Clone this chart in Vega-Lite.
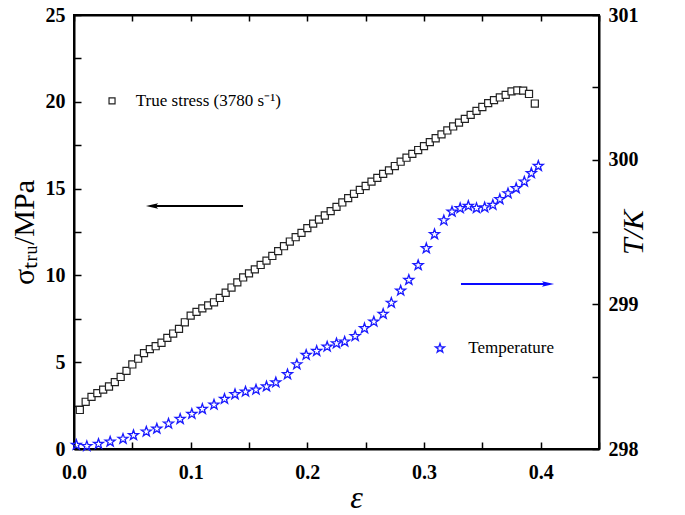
{
  "$schema": "https://vega.github.io/schema/vega-lite/v6.json",
  "width": 525,
  "height": 434,
  "autosize": {"type": "none"},
  "padding": {"left": 74, "top": 15, "right": 86, "bottom": 66},
  "background": "white",
  "config": {
    "view": {"stroke": "black", "strokeWidth": 2},
    "axis": {
      "grid": false,
      "zindex": 2,
      "labelFlush": false,
      "labelOverlap": false,
      "domainColor": "black",
      "domainWidth": 2,
      "tickColor": "black",
      "tickWidth": 1.5,
      "labelFont": "Liberation Serif",
      "labelFontWeight": "bold",
      "labelFontSize": 20,
      "labelColor": "black",
      "titleFont": "Liberation Serif",
      "titleFontWeight": "normal",
      "titleColor": "black"
    }
  },
  "datasets": {
    "stress": [
      {"eps": 0.005, "val": 2.25}, {"eps": 0.010, "val": 2.72}, {"eps": 0.015, "val": 3.0}, {"eps": 0.020, "val": 3.22},
      {"eps": 0.025, "val": 3.42}, {"eps": 0.030, "val": 3.6}, {"eps": 0.035, "val": 3.85}, {"eps": 0.040, "val": 4.15},
      {"eps": 0.045, "val": 4.5}, {"eps": 0.050, "val": 4.87}, {"eps": 0.055, "val": 5.2}, {"eps": 0.060, "val": 5.52},
      {"eps": 0.065, "val": 5.75}, {"eps": 0.070, "val": 5.92}, {"eps": 0.075, "val": 6.12}, {"eps": 0.080, "val": 6.4},
      {"eps": 0.085, "val": 6.65}, {"eps": 0.090, "val": 6.92}, {"eps": 0.095, "val": 7.3}, {"eps": 0.100, "val": 7.68},
      {"eps": 0.105, "val": 7.9}, {"eps": 0.110, "val": 8.1}, {"eps": 0.115, "val": 8.27}, {"eps": 0.120, "val": 8.45},
      {"eps": 0.125, "val": 8.7}, {"eps": 0.130, "val": 9.0}, {"eps": 0.135, "val": 9.3}, {"eps": 0.140, "val": 9.6},
      {"eps": 0.145, "val": 9.88}, {"eps": 0.150, "val": 10.12}, {"eps": 0.155, "val": 10.35}, {"eps": 0.160, "val": 10.6},
      {"eps": 0.165, "val": 10.85}, {"eps": 0.170, "val": 11.12}, {"eps": 0.175, "val": 11.4}, {"eps": 0.180, "val": 11.68},
      {"eps": 0.185, "val": 11.95}, {"eps": 0.190, "val": 12.2}, {"eps": 0.195, "val": 12.45}, {"eps": 0.200, "val": 12.72},
      {"eps": 0.205, "val": 12.98}, {"eps": 0.210, "val": 13.22}, {"eps": 0.215, "val": 13.45}, {"eps": 0.220, "val": 13.7},
      {"eps": 0.225, "val": 13.95}, {"eps": 0.230, "val": 14.2}, {"eps": 0.235, "val": 14.45}, {"eps": 0.240, "val": 14.7},
      {"eps": 0.245, "val": 14.92}, {"eps": 0.250, "val": 15.15}, {"eps": 0.255, "val": 15.4}, {"eps": 0.260, "val": 15.62},
      {"eps": 0.265, "val": 15.85}, {"eps": 0.270, "val": 16.05}, {"eps": 0.275, "val": 16.3}, {"eps": 0.280, "val": 16.55},
      {"eps": 0.285, "val": 16.78}, {"eps": 0.290, "val": 17.0}, {"eps": 0.295, "val": 17.22}, {"eps": 0.300, "val": 17.45},
      {"eps": 0.305, "val": 17.68}, {"eps": 0.310, "val": 17.9}, {"eps": 0.315, "val": 18.12}, {"eps": 0.320, "val": 18.35},
      {"eps": 0.325, "val": 18.58}, {"eps": 0.330, "val": 18.8}, {"eps": 0.335, "val": 19.02}, {"eps": 0.340, "val": 19.25},
      {"eps": 0.345, "val": 19.48}, {"eps": 0.350, "val": 19.7}, {"eps": 0.355, "val": 19.92}, {"eps": 0.360, "val": 20.1},
      {"eps": 0.365, "val": 20.25}, {"eps": 0.370, "val": 20.4}, {"eps": 0.375, "val": 20.6}, {"eps": 0.380, "val": 20.66},
      {"eps": 0.385, "val": 20.64}, {"eps": 0.390, "val": 20.45}, {"eps": 0.395, "val": 19.9}
    ],
    "temp": [
      {"eps": 0.002, "val": 298.028}, {"eps": 0.011, "val": 298.02}, {"eps": 0.021, "val": 298.035}, {"eps": 0.031, "val": 298.05},
      {"eps": 0.042, "val": 298.07}, {"eps": 0.051, "val": 298.095}, {"eps": 0.062, "val": 298.12}, {"eps": 0.071, "val": 298.14},
      {"eps": 0.081, "val": 298.175}, {"eps": 0.091, "val": 298.207}, {"eps": 0.101, "val": 298.242}, {"eps": 0.110, "val": 298.276},
      {"eps": 0.120, "val": 298.306}, {"eps": 0.129, "val": 298.346}, {"eps": 0.138, "val": 298.378}, {"eps": 0.147, "val": 298.396},
      {"eps": 0.156, "val": 298.41}, {"eps": 0.165, "val": 298.432}, {"eps": 0.173, "val": 298.46}, {"eps": 0.183, "val": 298.516},
      {"eps": 0.191, "val": 298.585}, {"eps": 0.199, "val": 298.65}, {"eps": 0.208, "val": 298.677}, {"eps": 0.217, "val": 298.707},
      {"eps": 0.225, "val": 298.73}, {"eps": 0.232, "val": 298.742}, {"eps": 0.241, "val": 298.78}, {"eps": 0.249, "val": 298.834},
      {"eps": 0.257, "val": 298.88}, {"eps": 0.265, "val": 298.933}, {"eps": 0.272, "val": 299.01}, {"eps": 0.280, "val": 299.094},
      {"eps": 0.287, "val": 299.168}, {"eps": 0.295, "val": 299.27}, {"eps": 0.302, "val": 299.387}, {"eps": 0.309, "val": 299.484},
      {"eps": 0.317, "val": 299.58}, {"eps": 0.324, "val": 299.64}, {"eps": 0.331, "val": 299.664}, {"eps": 0.338, "val": 299.68},
      {"eps": 0.345, "val": 299.665}, {"eps": 0.352, "val": 299.67}, {"eps": 0.359, "val": 299.687}, {"eps": 0.365, "val": 299.726},
      {"eps": 0.372, "val": 299.767}, {"eps": 0.379, "val": 299.802}, {"eps": 0.386, "val": 299.848}, {"eps": 0.392, "val": 299.906},
      {"eps": 0.398, "val": 299.956}
    ]
  },
  "layer": [
    {
      "layer": [
        {
          "data": {"name": "stress"},
          "mark": {"type": "point", "shape": "square", "size": 50, "filled": true, "fill": "white", "stroke": "#222", "strokeWidth": 1.2, "opacity": 1},
          "encoding": {
            "x": {"field": "eps", "type": "quantitative", "title": "ε",
              "scale": {"domain": [0, 0.45], "nice": false, "zero": false},
              "axis": {"orient": "bottom", "values": [0, 0.05, 0.1, 0.15, 0.2, 0.25, 0.3, 0.35, 0.4, 0.45],
                "labelExpr": "round(datum.value*20) % 2 === 0 && datum.value < 0.44 ? format(datum.value, '.1f') : ''",
                "tickSize": -7, "labelPadding": 20, "titleFontSize": 32, "titleFontStyle": "italic", "titlePadding": 0, "titleX": 282}},
            "y": {"field": "val", "type": "quantitative", "title": "σₜᵣᵤ/MPa",
              "scale": {"domain": [0, 25], "nice": false},
              "axis": {"orient": "left", "values": [0, 2.5, 5, 7.5, 10, 12.5, 15, 17.5, 20, 22.5, 25],
                "labelExpr": "datum.value % 5 === 0 ? format(datum.value, 'd') : ''",
                "tickSize": -7, "labelPadding": 16, "titleFontSize": 30, "titlePadding": 6}}
          }
        },
        {
          "data": {"values": [{"eps": 0.0669, "eps2": 0.1449, "val": 14.0}]},
          "mark": {"type": "rule", "color": "black", "strokeWidth": 2},
          "encoding": {
            "x": {"field": "eps", "type": "quantitative", "title": "ε"},
            "x2": {"field": "eps2"},
            "y": {"field": "val", "type": "quantitative", "title": "σₜᵣᵤ/MPa"}
          }
        },
        {
          "data": {"values": [{"eps": 0.0669, "val": 14.0}]},
          "mark": {"type": "point", "shape": "M-1,0L1,-0.45L0.6,0L1,0.45Z", "size": 150, "filled": true, "color": "black", "opacity": 1},
          "encoding": {
            "x": {"field": "eps", "type": "quantitative", "title": "ε"},
            "y": {"field": "val", "type": "quantitative", "title": "σₜᵣᵤ/MPa"}
          }
        },
        {
          "data": {"values": [{"eps": 0.0326, "val": 20.05}]},
          "mark": {"type": "point", "shape": "square", "size": 36, "filled": true, "fill": "white", "stroke": "#222", "strokeWidth": 1.2, "opacity": 1},
          "encoding": {
            "x": {"field": "eps", "type": "quantitative", "title": "ε"},
            "y": {"field": "val", "type": "quantitative", "title": "σₜᵣᵤ/MPa"}
          }
        },
        {
          "data": {"values": [{"eps": 0.053, "val": 20.05, "label": "True stress (3780 s⁻¹)"}]},
          "mark": {"type": "text", "align": "left", "baseline": "middle", "font": "Liberation Serif", "fontSize": 17, "color": "black"},
          "encoding": {
            "x": {"field": "eps", "type": "quantitative", "title": "ε"},
            "y": {"field": "val", "type": "quantitative", "title": "σₜᵣᵤ/MPa"},
            "text": {"field": "label"}
          }
        }
      ]
    },
    {
      "layer": [
        {
          "data": {"name": "temp"},
          "mark": {"type": "point", "shape": "M0,-1L0.235,-0.324L0.951,-0.309L0.380,0.124L0.588,0.809L0,0.4L-0.588,0.809L-0.380,0.124L-0.951,-0.309L-0.235,-0.324Z", "size": 110, "filled": false, "stroke": "#1a1aff", "strokeWidth": 1.3, "opacity": 1},
          "encoding": {
            "x": {"field": "eps", "type": "quantitative", "title": "ε",
              "axis": {"orient": "top", "values": [0, 0.05, 0.1, 0.15, 0.2, 0.25, 0.3, 0.35, 0.4, 0.45], "labels": false, "tickSize": -6, "title": null}},
            "y": {"field": "val", "type": "quantitative", "title": "T/K",
              "scale": {"domain": [298, 301], "nice": false, "zero": false},
              "axis": {"orient": "right", "values": [298, 298.5, 299, 299.5, 300, 300.5, 301],
                "labelExpr": "datum.value % 1 === 0 ? format(datum.value, 'd') : ''",
                "tickSize": -7, "labelPadding": 16, "titleFontSize": 30, "titleFontStyle": "italic", "titleAngle": 270, "titlePadding": 10}}
          }
        },
        {
          "data": {"values": [{"eps": 0.3317, "eps2": 0.4063, "val": 299.14}]},
          "mark": {"type": "rule", "color": "#0a0aff", "strokeWidth": 2},
          "encoding": {
            "x": {"field": "eps", "type": "quantitative", "title": "ε"},
            "x2": {"field": "eps2"},
            "y": {"field": "val", "type": "quantitative", "title": "T/K"}
          }
        },
        {
          "data": {"values": [{"eps": 0.4063, "val": 299.14}]},
          "mark": {"type": "point", "shape": "M1,0L-1,-0.45L-0.6,0L-1,0.45Z", "size": 150, "filled": true, "color": "#0a0aff", "opacity": 1},
          "encoding": {
            "x": {"field": "eps", "type": "quantitative", "title": "ε"},
            "y": {"field": "val", "type": "quantitative", "title": "T/K"}
          }
        },
        {
          "data": {"values": [{"eps": 0.3137, "val": 298.696}]},
          "mark": {"type": "point", "shape": "M0,-1L0.235,-0.324L0.951,-0.309L0.380,0.124L0.588,0.809L0,0.4L-0.588,0.809L-0.380,0.124L-0.951,-0.309L-0.235,-0.324Z", "size": 90, "filled": false, "stroke": "#1a1aff", "strokeWidth": 1.3, "opacity": 1},
          "encoding": {
            "x": {"field": "eps", "type": "quantitative", "title": "ε"},
            "y": {"field": "val", "type": "quantitative", "title": "T/K"}
          }
        },
        {
          "data": {"values": [{"eps": 0.338, "val": 298.696, "label": "Temperature"}]},
          "mark": {"type": "text", "align": "left", "baseline": "middle", "font": "Liberation Serif", "fontSize": 17, "color": "black"},
          "encoding": {
            "x": {"field": "eps", "type": "quantitative", "title": "ε"},
            "y": {"field": "val", "type": "quantitative", "title": "T/K"},
            "text": {"field": "label"}
          }
        }
      ]
    }
  ],
  "resolve": {"scale": {"y": "independent"}, "axis": {"x": "independent"}}
}
